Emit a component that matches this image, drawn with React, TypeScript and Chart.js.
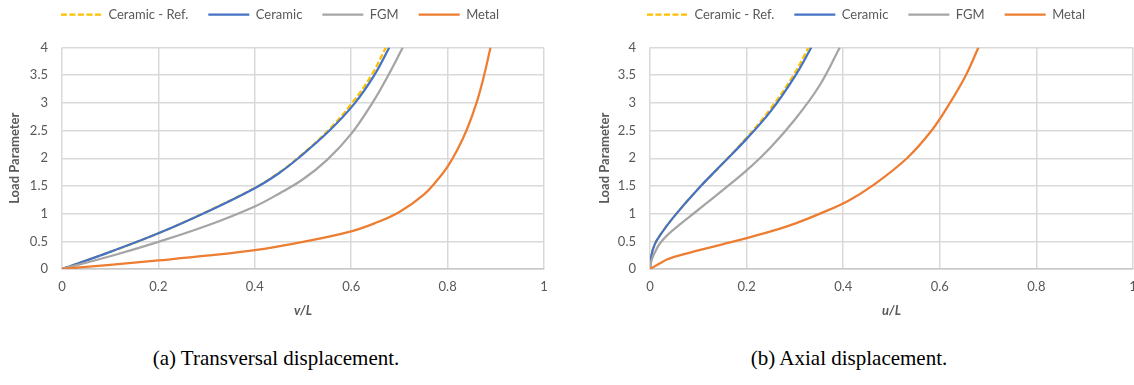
import React, { useEffect, useRef } from 'react';
import { Chart, registerables } from 'chart.js';

Chart.register(...registerables);

// ---------- data ----------
const SERIES_NAMES = ['Ceramic - Ref.', 'Ceramic', 'FGM', 'Metal'];
const SERIES_COLORS = ['#FFC000', '#4472C4', '#A5A5A5', '#ED7D31'];

const X_TICKS = [0, 0.2, 0.4, 0.6, 0.8, 1];
const Y_TICKS = [0, 0.5, 1, 1.5, 2, 2.5, 3, 3.5, 4];

// (a) transversal displacement v/L
const LEFT_REF_X = [0, 0.1, 0.2, 0.3, 0.4, 0.45, 0.49, 0.552, 0.602, 0.642, 0.672];
const LEFT_REF_Y = [0, 0.31, 0.645, 1.035, 1.465, 1.74, 2.01, 2.5, 3.0, 3.5, 4.0];
const LEFT_CER_X = [0, 0.1, 0.2, 0.3, 0.4, 0.45, 0.49, 0.555, 0.608, 0.648, 0.679];
const LEFT_CER_Y = [0, 0.31, 0.645, 1.03, 1.46, 1.73, 2.0, 2.5, 3.0, 3.5, 4.0];
const LEFT_FGM_X = [0, 0.1, 0.2, 0.3, 0.4, 0.45, 0.5, 0.55, 0.6, 0.644, 0.677, 0.707];
const LEFT_FGM_Y = [0, 0.23, 0.49, 0.78, 1.13, 1.36, 1.62, 1.97, 2.44, 3.0, 3.5, 4.0];
const LEFT_MET_X = [0, 0.1, 0.2, 0.3, 0.4, 0.5, 0.6, 0.65, 0.7, 0.75, 0.78, 0.8, 0.82, 0.84, 0.86, 0.875, 0.889];
const LEFT_MET_Y = [0, 0.075, 0.155, 0.24, 0.34, 0.49, 0.68, 0.83, 1.03, 1.34, 1.62, 1.85, 2.15, 2.52, 3.0, 3.47, 4.0];

// (b) axial displacement u/L
const RIGHT_REF_X = [0, 0.003, 0.01, 0.02, 0.05, 0.1, 0.15, 0.2, 0.25, 0.297, 0.328];
const RIGHT_REF_Y = [0, 0.25, 0.45, 0.6, 0.95, 1.45, 1.9, 2.37, 2.9, 3.5, 4.0];
const RIGHT_CER_X = [0, 0.003, 0.01, 0.02, 0.05, 0.1, 0.15, 0.2, 0.25, 0.3, 0.334];
const RIGHT_CER_Y = [0, 0.25, 0.45, 0.6, 0.95, 1.45, 1.9, 2.35, 2.85, 3.48, 4.0];
const RIGHT_FGM_X = [0, 0.003, 0.01, 0.024, 0.05, 0.1, 0.15, 0.2, 0.25, 0.3, 0.35, 0.393];
const RIGHT_FGM_Y = [0, 0.15, 0.3, 0.5, 0.72, 1.07, 1.42, 1.78, 2.2, 2.7, 3.3, 4.0];
const RIGHT_MET_X = [0, 0.01, 0.02, 0.035, 0.05, 0.1, 0.15, 0.2, 0.25, 0.3, 0.352, 0.41, 0.46, 0.532, 0.583, 0.621, 0.654, 0.68];
const RIGHT_MET_Y = [0, 0.05, 0.1, 0.17, 0.22, 0.335, 0.445, 0.557, 0.68, 0.82, 1.0, 1.23, 1.5, 2.0, 2.5, 3.0, 3.5, 4.0];

const Y_TITLE = 'Load Parameter';
const CAPTION_A = '(a) Transversal displacement.';
const CAPTION_B = '(b) Axial displacement.';

// ---------- styles ----------
const TEXT = '#595959';
const GRID = '#D9D9D9';
const AXIS = '#C8C8C8';
const FONT_FAMILY = 'Lato, "Open Sans", sans-serif';
const CANVAS_H = 345;
const LINE_W = 2.25;
const DASH = [6, 2.5];

type Panel = {
  xs: number[][];
  ys: number[][];
  xTitle: string;
  yWidth: number;
  yTitlePad: number;
  padRight: number;
  spacer: number;
  width: number;
  left: number;
};

const pts = (xs: number[], ys: number[]) => xs.map((x, i) => ({ x, y: ys[i] }));

function PanelChart({ panel }: { panel: Panel }) {
  const ref = useRef<HTMLCanvasElement>(null);
  useEffect(() => {
    if (!ref.current) return;
    const legendGap = {
      id: 'legendGap',
      beforeLayout(chart: any) {
        const lg = chart.legend;
        if (lg && !lg._gapPatched) {
          const orig = lg.fit;
          lg.fit = function () {
            orig.call(this);
            this.height += 16.5;
          };
          lg._gapPatched = true;
        }
      },
    };
    const tickFont = { size: 13, family: FONT_FAMILY };
    const chart = new Chart(ref.current, {
      type: 'scatter',
      data: {
        datasets: SERIES_NAMES.map((name, i) => ({
          label: name,
          data: pts(panel.xs[i], panel.ys[i]),
          showLine: true,
          borderColor: SERIES_COLORS[i],
          backgroundColor: SERIES_COLORS[i],
          borderWidth: LINE_W,
          borderDash: i === 0 ? DASH : [],
          pointRadius: 0,
          pointHoverRadius: 0,
          tension: 0.4,
          cubicInterpolationMode: 'default',
          order: 4 - i,
        })),
      } as any,
      options: {
        animation: false,
        responsive: false,
        maintainAspectRatio: false,
        layout: { padding: { left: 0, right: panel.padRight, top: 0, bottom: 0 } },
        plugins: {
          legend: {
            position: 'top',
            labels: {
              usePointStyle: true,
              pointStyle: 'line',
              pointStyleWidth: 41,
              padding: 20,
              color: TEXT,
              font: tickFont,
              generateLabels: (c: any) => {
                const items = (Chart.defaults.plugins.legend.labels as any).generateLabels(c);
                items.forEach((it: any) => {
                  const ds = c.data.datasets[it.datasetIndex];
                  it.lineDash = ds.borderDash;
                  it.lineWidth = LINE_W;
                  it.strokeStyle = ds.borderColor;
                  it.pointStyle = 'line';
                });
                return items;
              },
              sort: (a: any, b: any) => a.datasetIndex - b.datasetIndex,
            },
          },
          tooltip: { enabled: false },
        },
        scales: {
          x: {
            type: 'linear',
            min: 0,
            max: 1,
            afterBuildTicks: (s: any) => {
              s.ticks = X_TICKS.map((v) => ({ value: v }));
            },
            afterFit: (s: any) => {
              s.height = CANVAS_H - 281;
            },
            ticks: { color: TEXT, font: tickFont, padding: 10, callback: (v: any) => String(v) },
            grid: { color: GRID, lineWidth: 1.5, drawTicks: false },
            border: { color: AXIS, width: 1.5 },
            title: {
              display: true,
              text: panel.xTitle,
              color: TEXT,
              font: { size: 13, family: FONT_FAMILY, weight: 'bold', style: 'italic' },
              padding: { top: 0, bottom: 14 },
            },
          },
          y: {
            type: 'linear',
            min: 0,
            max: 4,
            afterBuildTicks: (s: any) => {
              s.ticks = Y_TICKS.map((v) => ({ value: v }));
            },
            afterFit: (s: any) => {
              s.width = panel.yWidth;
            },
            ticks: { color: TEXT, font: tickFont, padding: 14, callback: (v: any) => String(v) },
            grid: { color: GRID, lineWidth: 1.5, drawTicks: false },
            border: { display: false },
            title: {
              display: true,
              text: Y_TITLE,
              color: TEXT,
              font: { size: 13, family: FONT_FAMILY, weight: 'bold' },
              padding: { top: panel.yTitlePad, bottom: 0 },
            },
          },
          spacer: {
            type: 'linear',
            position: 'right',
            display: true,
            grid: { display: false, drawTicks: false },
            ticks: { display: false },
            border: { display: false },
            afterFit: (s: any) => {
              s.width = panel.spacer;
            },
          },
        },
      } as any,
      plugins: [legendGap],
    });
    return () => chart.destroy();
  }, [panel]);
  return (
    <canvas
      ref={ref}
      width={panel.width}
      height={CANVAS_H}
      style={{ position: 'absolute', left: panel.left, top: -12, width: panel.width, height: CANVAS_H }}
    />
  );
}

const LEFT_PANEL: Panel = {
  xs: [LEFT_REF_X, LEFT_CER_X, LEFT_FGM_X, LEFT_MET_X],
  ys: [LEFT_REF_Y, LEFT_CER_Y, LEFT_FGM_Y, LEFT_MET_Y],
  xTitle: 'v/L',
  yWidth: 62,
  yTitlePad: 7,
  padRight: 7,
  spacer: 16,
  width: 567,
  left: 0,
};

const RIGHT_PANEL: Panel = {
  xs: [RIGHT_REF_X, RIGHT_CER_X, RIGHT_FGM_X, RIGHT_MET_X],
  ys: [RIGHT_REF_Y, RIGHT_CER_Y, RIGHT_FGM_Y, RIGHT_MET_Y],
  xTitle: 'u/L',
  yWidth: 83,
  yTitlePad: 30,
  padRight: 22,
  spacer: 32,
  width: 620,
  left: 567,
};

export default function App() {
  useEffect(() => {
    document.body.style.margin = '0';
    document.body.style.background = '#ffffff';
  }, []);
  const capStyle: React.CSSProperties = {
    position: 'absolute',
    top: 346,
    textAlign: 'center',
    fontFamily: '"Liberation Serif", "Times New Roman", serif',
    fontSize: 21,
    lineHeight: '24px',
    color: '#000',
  };
  return (
    <div style={{ position: 'relative', width: 1134, height: 385, overflow: 'hidden', background: '#fff' }}>
      <PanelChart panel={LEFT_PANEL} />
      <PanelChart panel={RIGHT_PANEL} />
      <div style={{ ...capStyle, left: 0, width: 552 }}>{CAPTION_A}</div>
      <div style={{ ...capStyle, left: 567, width: 564 }}>{CAPTION_B}</div>
    </div>
  );
}
